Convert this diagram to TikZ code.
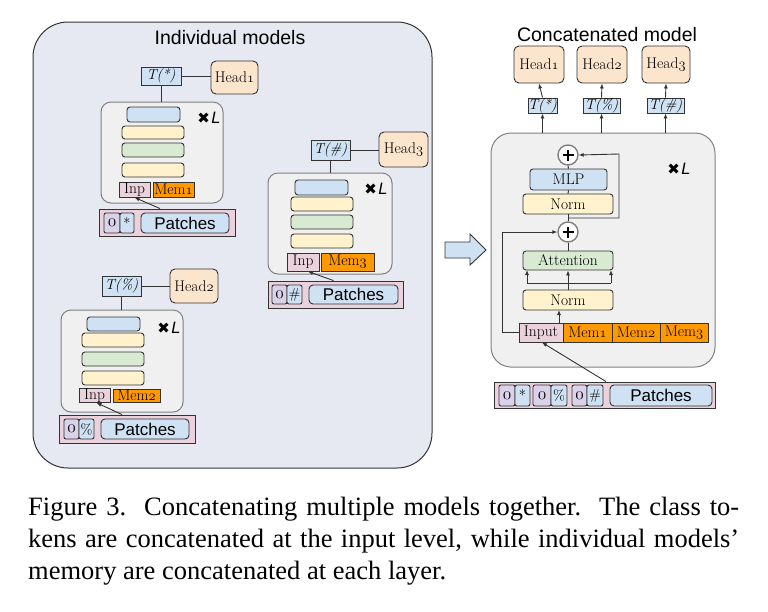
\documentclass[tikz,border=0pt]{standalone}
\usepackage{fontspec}
\usetikzlibrary{arrows.meta,calc}
\newfontfamily\capf{Liberation Serif}
\newfontfamily\sanf{Liberation Sans}
\newfontfamily\symf{DejaVu Sans}
\newcommand\osn[1]{{\usefont{OML}{cmm}{m}{it}#1}}
\definecolor{panel}{HTML}{E6E9F1}
\definecolor{inner}{HTML}{F0F0F0}
\definecolor{cblue}{HTML}{CFE2F3}
\definecolor{cyell}{HTML}{FFF2CC}
\definecolor{cgreen}{HTML}{D9EAD3}
\definecolor{cpeach}{HTML}{FCE5CD}
\definecolor{cpink}{HTML}{EAD1DC}
\definecolor{cpurp}{HTML}{D9D2E9}
\definecolor{corange}{HTML}{FF9900}
\definecolor{bord}{HTML}{333333}
\definecolor{gbord}{HTML}{808080}
\newcommand\bx[7][]{\node[bx,#1,minimum width={#5-#3},minimum height={#6-#4}] (#2) at ({(#3+#5)/2},{(#4+#6)/2}) {#7};}
\newcommand\xL{{\symf\fontsize{15}{15}\selectfont ✖}\kern1.5pt{\sanf\itshape\fontsize{16.5}{16}\selectfont L}}
\tikzset{
  bx/.style={draw=bord, line width=0.9pt, inner sep=0pt, font=\fontsize{15.5}{16}\selectfont},
  pnl/.style={fill=panel, draw=bord, line width=1pt, rounded corners=35pt},
  inbox/.style={fill=inner, draw=gbord, line width=1pt, rounded corners=10pt},
  rblue/.style={fill=cblue, rounded corners=3pt},
  ryell/.style={fill=cyell, rounded corners=3pt},
  rgreen/.style={fill=cgreen, rounded corners=3pt},
  peach/.style={fill=cpeach, rounded corners=5pt},
  tbox/.style={fill=cblue, font=\fontsize{14.5}{16}\selectfont\itshape},
  pink/.style={fill=cpink},
  orng/.style={fill=corange},
  tokp/.style={fill=cpurp, rounded corners=2pt, font=\fontsize{16}{16}\selectfont},
  tokb/.style={fill=cblue, rounded corners=2pt, font=\fontsize{14.5}{14}\selectfont},
  pat/.style={fill=cblue, rounded corners=4pt, font=\sanf\fontsize{17}{18}\selectfont},
  lnk/.style={draw=bord, line width=1pt},
  arr/.style={draw=bord, line width=0.9pt, -{Latex[length=5pt,width=4pt]}},
  plus/.style={circle, draw=gbord, line width=1.4pt, fill=white, minimum size=20pt, inner sep=0pt,
    path picture={\draw[line width=1.8pt,black] ([xshift=-5.5pt]path picture bounding box.center) -- ([xshift=5.5pt]path picture bounding box.center);
      \draw[line width=1.8pt,black] ([yshift=-5.5pt]path picture bounding box.center) -- ([yshift=5.5pt]path picture bounding box.center);}},
  ttl/.style={font=\sanf\fontsize{19.5}{20}\selectfont, inner sep=0pt},
  captxt/.style={font=\capf\fontsize{26.5}{30}\selectfont, inner sep=0pt, anchor=base west},
}
\begin{document}
\begin{tikzpicture}[x=1pt,y=-1pt]
\useasboundingbox (0,0) rectangle (768,611);
% ---------- left panel ----------
\bx[pnl]{LP}{33}{22}{432}{468}{}
\node[ttl] (ttlL) at (230,38) {Individual models};

% module 1
\bx[tbox]{T1}{141}{67}{181}{85}{T(*)}
\bx[peach]{H1}{211}{61}{258}{94}{Head\osn{1}}
\bx[inbox]{I1}{101}{102}{223}{203}{}
\draw[lnk] (T1.east) -- (T1.east -| H1.west);
\draw[lnk] (T1.south) -- (T1.south |- I1.north);
\bx[rblue]{B1a}{127}{107}{180}{122}{}
\bx[ryell]{B1b}{122}{126}{184}{139}{}
\bx[rgreen]{B1c}{122}{143}{184}{157}{}
\bx[ryell]{B1d}{122}{163}{184}{177}{}
\node[inner sep=0pt] (X1) at (209,118) {\xL};
\bx[pink]{In1}{119}{182}{150}{197}{Inp}
\bx[orng]{Me1}{153}{182}{194}{197}{Mem\osn{1}}
\bx[pink]{P1}{99}{209}{235}{236}{}
\bx[tokp]{P1o}{104}{213}{120}{233}{\osn{0}}
\bx[tokb]{P1s}{120}{213}{134}{233}{*}
\bx[pat]{P1p}{141}{213}{229}{233}{Patches}
\draw[arr] ([xshift=-7pt]P1.north) -- (In1.south);

% module 3
\bx[tbox]{T3}{311}{140}{350}{160}{T(\#)}
\bx[peach]{H3}{379}{132}{428}{167}{Head\osn{3}}
\bx[inbox]{I3}{268}{173}{392}{274}{}
\draw[lnk] (T3.east) -- (T3.east -| H3.west);
\draw[lnk] (T3.south) -- (T3.south |- I3.north);
\bx[rblue]{B3a}{295}{180}{348}{195}{}
\bx[ryell]{B3b}{291}{197}{353}{211}{}
\bx[rgreen]{B3c}{291}{215}{353}{229}{}
\bx[ryell]{B3d}{291}{234}{353}{248}{}
\node[inner sep=0pt] (X3) at (376,189) {\xL};
\bx[pink]{In3}{287}{253}{319}{271}{Inp}
\bx[orng]{Me3}{321}{253}{374}{271}{Mem\osn{3}}
\bx[pink]{P3}{268}{281}{403}{308}{}
\bx[tokp]{P3o}{272}{285}{287}{304}{\osn{0}}
\bx[tokb]{P3s}{287}{285}{302}{304}{\#}
\bx[pat]{P3p}{309}{285}{398}{304}{Patches}
\draw[arr] ([xshift=-2pt]P3.north) -- ([xshift=5pt]In3.south);

% module 2
\bx[tbox]{T2}{102}{276}{141}{296}{T(\%)}
\bx[peach]{H2}{170}{269}{218}{303}{Head\osn{2}}
\bx[inbox]{I2}{61}{310}{183}{412}{}
\draw[lnk] (T2.east) -- (T2.east -| H2.west);
\draw[lnk] (T2.south) -- (T2.south |- I2.north);
\bx[rblue]{B2a}{87}{317}{140}{331}{}
\bx[ryell]{B2b}{82}{333}{144}{347}{}
\bx[rgreen]{B2c}{82}{352}{144}{366}{}
\bx[ryell]{B2d}{82}{371}{144}{385}{}
\node[inner sep=0pt] (X2) at (169,328) {\xL};
\bx[pink]{In2}{79}{389}{110}{402}{Inp}
\bx[orng]{Me2}{113}{389}{160}{402}{Mem\osn{2}}
\bx[pink]{P2}{59}{415}{195}{443}{}
\bx[tokp]{P2o}{64}{419}{79}{439}{\osn{0}}
\bx[tokb]{P2s}{79}{419}{94}{439}{\%}
\bx[pat]{P2p}{101}{419}{189}{439}{Patches}
\draw[arr] ([xshift=-5pt]P2.north) -- ([xshift=2pt]In2.south);

% ---------- big arrow ----------
\draw[fill=cblue, draw=bord, line width=0.9pt] (445,242) -- (470,242) -- (470,234) -- (486,250) -- (470,265) -- (470,258) -- (445,258) -- cycle;

% ---------- right panel ----------
\node[ttl] (ttlR) at (607,35) {Concatenated model};
\bx[inbox, rounded corners=20pt]{RP}{491}{133}{715}{367}{}
\bx[peach]{RH1}{514}{46}{564}{83}{Head\osn{1}}
\bx[peach]{RH2}{577}{46}{627}{83}{Head\osn{2}}
\bx[peach]{RH3}{642}{46}{690}{83}{Head\osn{3}}
\bx[tbox]{RT1}{528}{98}{557}{113}{T(*)}
\bx[tbox]{RT2}{583}{98}{620}{113}{T(\%)}
\bx[tbox]{RT3}{647}{98}{684}{113}{T(\#)}
\foreach \i in {1,2,3}{
  \draw[arr] (RT\i.south |- RP.north) -- (RT\i.south);
  \draw[arr] (RT\i.north) -- (RH\i.south);
}
\node[inner sep=0pt] (XR) at (679,169) {\xL};
\node[plus] (pl1) at (568,155) {};
\bx[rblue]{MLP}{530}{169}{607}{190}{MLP}
\bx[ryell]{NT}{523}{194}{613}{214}{Norm}
\node[plus] (pl2) at (568,232) {};
\bx[rgreen]{ATT}{523}{251}{613}{270}{Attention}
\bx[ryell]{NB}{523}{290}{613}{310}{Norm}
\bx[pink]{INP}{519}{323}{563}{342}{Input}
\bx[orng]{RM1}{563}{323}{612}{342}{Mem\osn{1}}
\bx[orng]{RM2}{612}{323}{660}{342}{Mem\osn{2}}
\bx[orng]{RM3}{660}{323}{708}{342}{Mem\osn{3}}
\coordinate (br) at (568,218);
\coordinate (sp) at (568,283);
\draw[lnk] (pl2.north) -- (NT.south);
\draw[lnk] (NT.north) -- (MLP.south);
\draw[lnk] (MLP.north) -- (pl1.south);
\draw[arr] (br) -- (619,218) -- (619,154) -- (pl1.east);
\draw[arr] (INP.west) -- (502,332.5) -- (502,232) -- (pl2.west);
\draw[lnk] (ATT.north) -- (pl2.south);
\draw[lnk] (NB.north) -- (sp);
\draw[lnk] (527,283) -- (611,283);
\draw[arr] (527,283) -- (527,270);
\draw[arr] (sp) -- (ATT.south);
\draw[arr] (611,283) -- (611,270);
\draw[arr] (559,323) -- (559,310);
\bx[pink]{RP2}{494}{382}{715}{408}{}
\bx[tokp]{Ro1}{499}{385}{515}{406}{\osn{0}}
\bx[tokb]{Rs1}{515}{385}{530}{406}{*}
\bx[tokp]{Ro2}{533}{385}{551}{406}{\osn{0}}
\bx[tokb]{Rs2}{551}{385}{567}{406}{\%}
\bx[tokp]{Ro3}{572}{385}{587}{406}{\osn{0}}
\bx[tokb]{Rs3}{587}{385}{603}{406}{\#}
\bx[pat]{Rpat}{610}{385}{712}{406}{Patches}
\draw[arr] ([xshift=1.5pt]RP2.north) -- ([xshift=1pt]INP.south);

% ---------- caption ----------
\node[captxt] (c1) at (28,515) {\hbox to 711pt{Figure 3.\ \ Concatenating multiple models together.\ \ The class to-}};
\node[captxt] (c2) at (28,547) {\hbox to 711pt{kens are concatenated at the input level, while individual models’}};
\node[captxt] (c3) at (28,579) {memory are concatenated at each layer.};
\end{tikzpicture}
\end{document}
